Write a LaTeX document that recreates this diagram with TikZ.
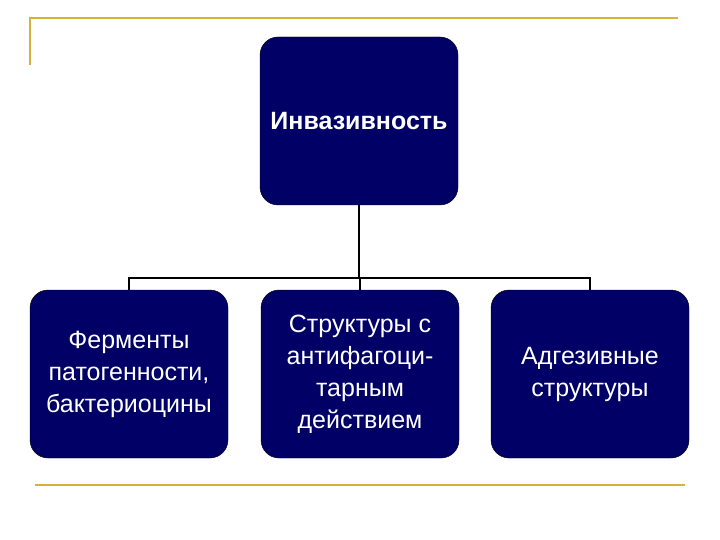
\documentclass[tikz,border=0pt]{standalone}
\usepackage{fontspec}
\setmainfont{Liberation Sans}
\definecolor{navy}{HTML}{000066}
\definecolor{gold}{HTML}{D4B23C}
\begin{document}
\begin{tikzpicture}[x=1pt,y=-1pt,
  box/.style={draw=black,fill=navy,rounded corners=18pt,text=white,minimum width=198pt,minimum height=168pt,align=center,font=\fontsize{25}{32}\selectfont,inner sep=0pt},
  link/.style={draw=black,line width=1.5pt}]
\useasboundingbox (0,0) rectangle (720,540);
\draw[gold,line width=1.5pt] (30,65) -- (30,18) -- (678,18);
\draw[gold,line width=1.5pt] (35,485) -- (685,485);
\node[box,font=\bfseries\fontsize{25}{30}\selectfont] (top) at (359,121) {Инвазивность};
\node[box] (a) at (129,374) {Ферменты\\патогенности,\\бактериоцины};
\node[box] (b) at (360,374) {Структуры с\\антифагоци-\\тарным\\действием};
\node[box] (c) at (590,374) {Адгезивные\\структуры};
\coordinate (j) at (360,278);
\draw[link] (top.south) -- (top.south |- j);
\draw[link] (a.north) -- (a.north |- j) -- (c.north |- j) -- (c.north);
\draw[link] (b.north) -- (b.north |- j);
\end{tikzpicture}
\end{document}
